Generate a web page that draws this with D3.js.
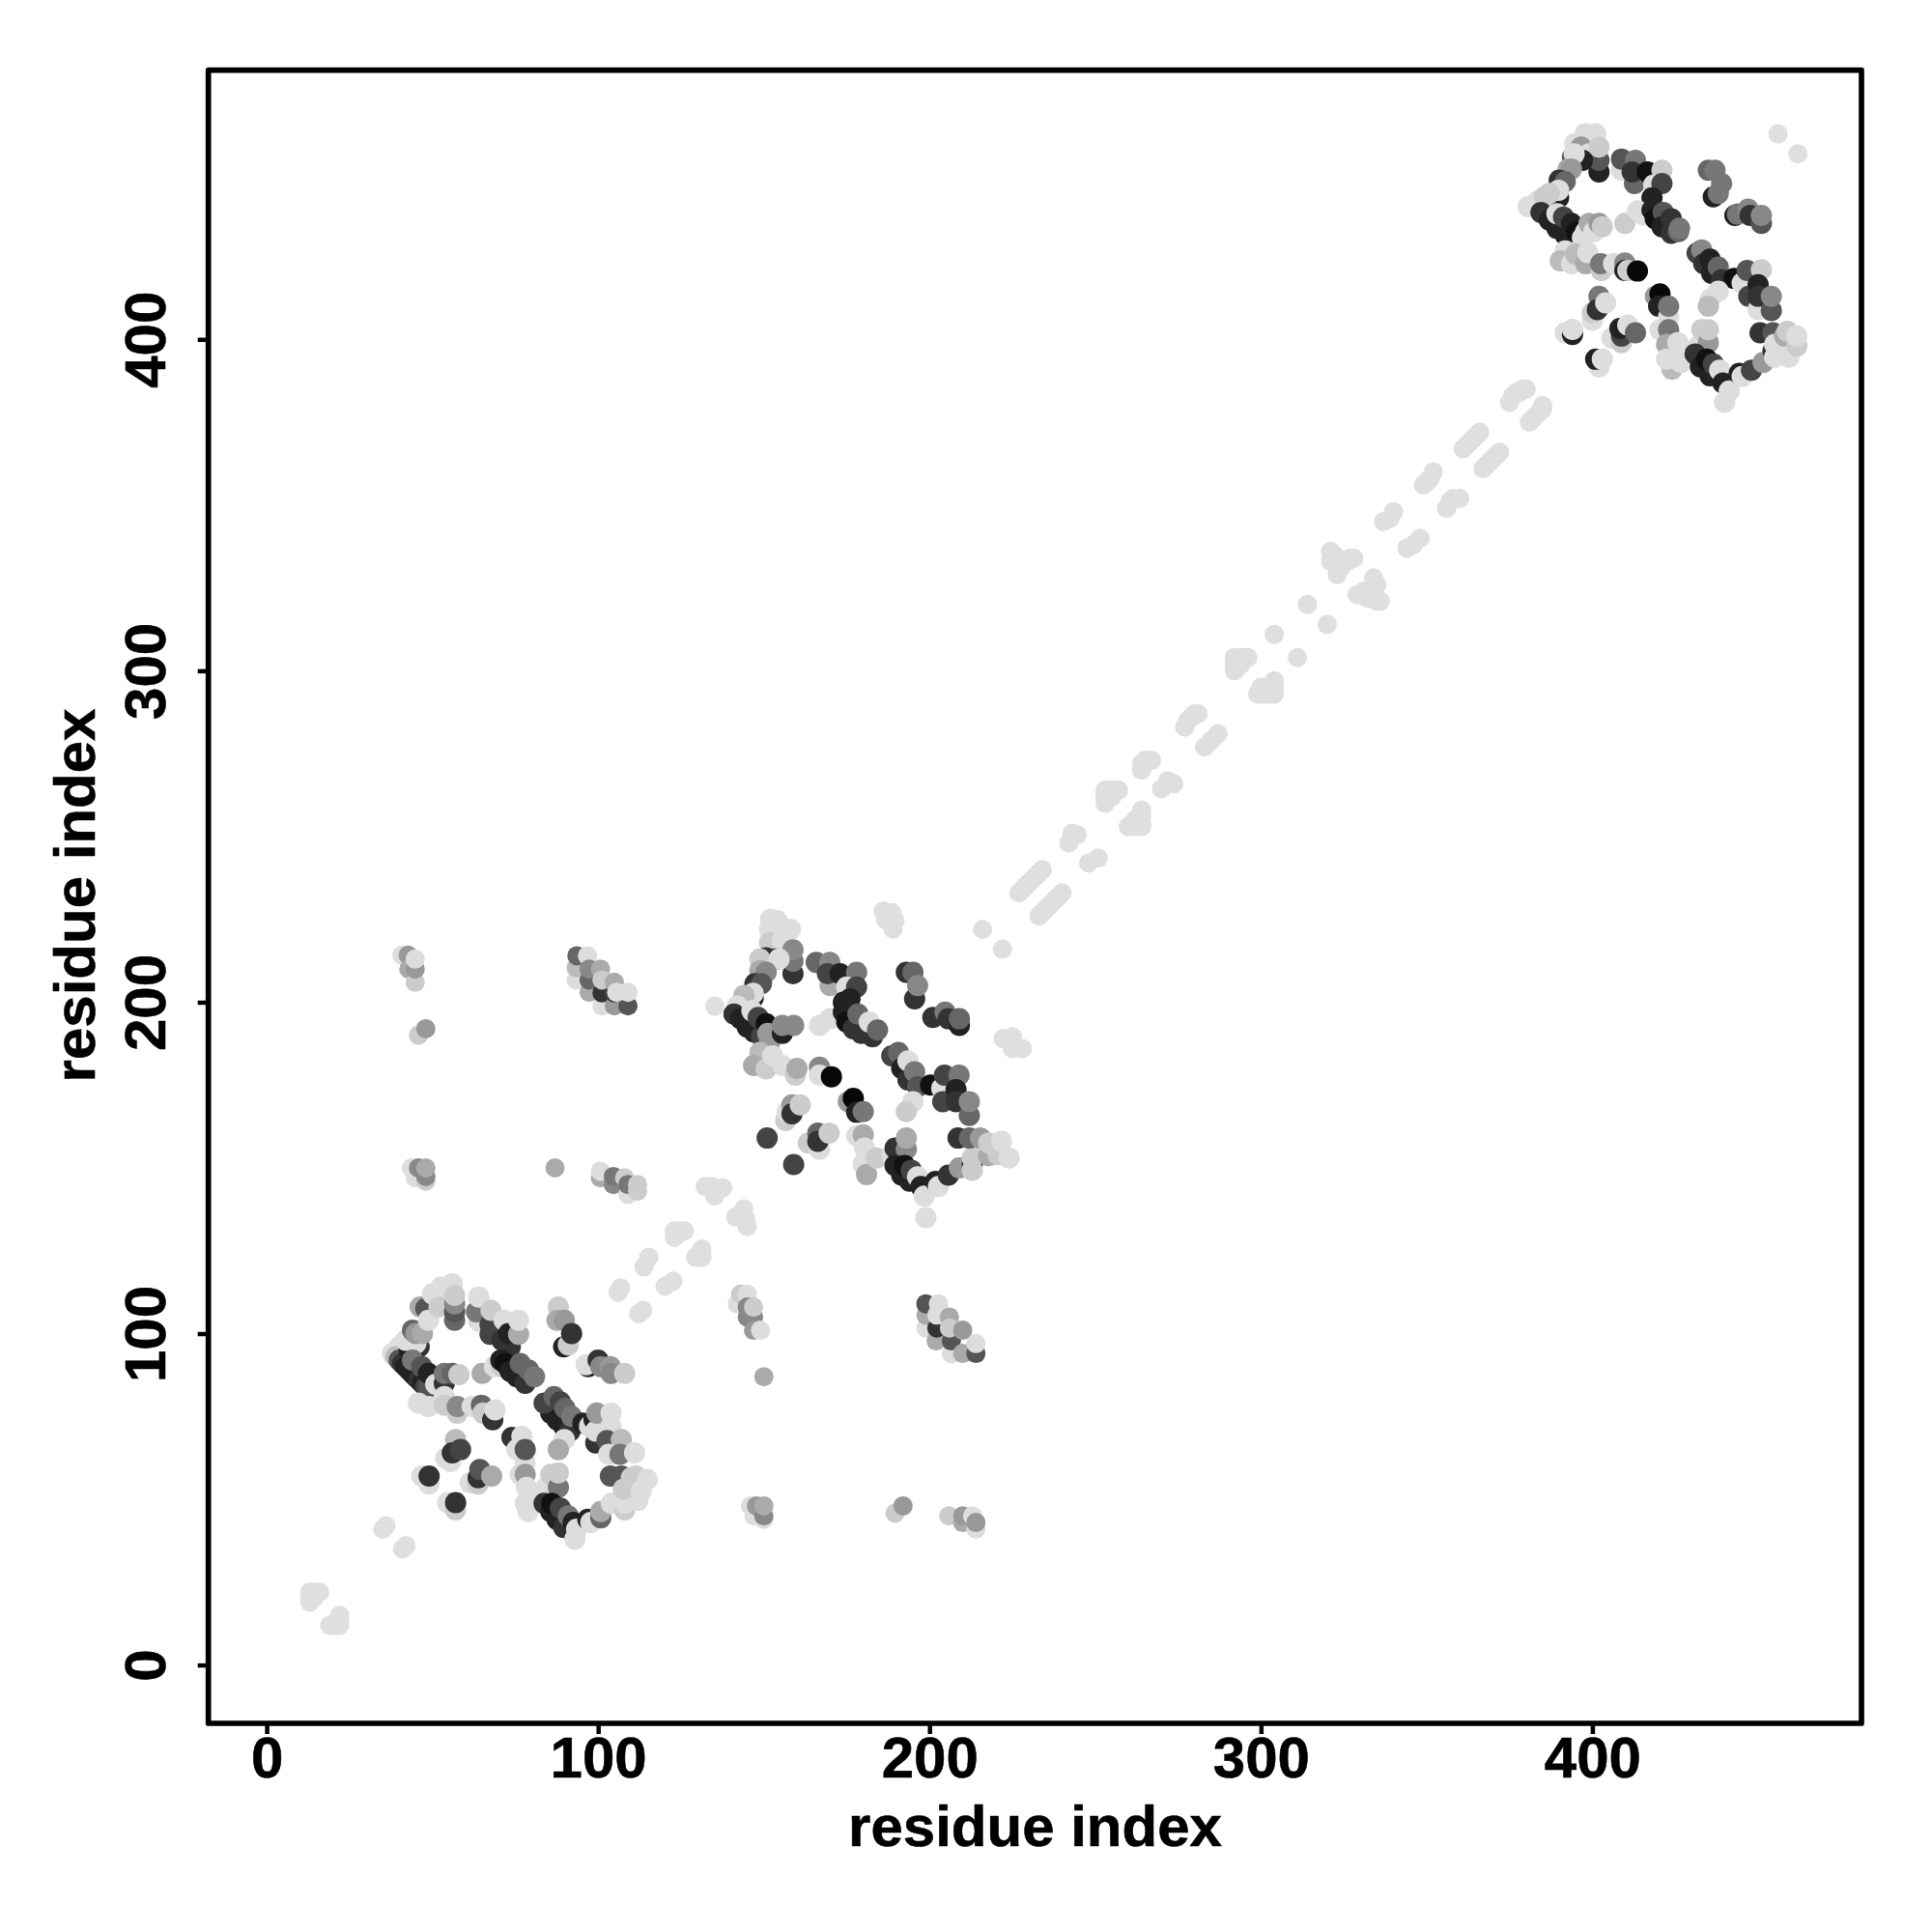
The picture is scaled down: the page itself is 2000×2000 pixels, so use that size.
<!DOCTYPE html>
<html><head><meta charset="utf-8"><script src="https://cdnjs.cloudflare.com/ajax/libs/d3/7.8.5/d3.min.js"></script>
<style>html,body{margin:0;padding:0;background:#fff}svg{display:block}text{font-family:"Liberation Sans",Arial,sans-serif;font-weight:700;fill:#000;stroke:#000;stroke-width:0.6px}</style>
</head><body><svg id="c" width="2000" height="2000"></svg>
<script>
const xTicks=[0,100,200,300,400], yTicks=[0,100,200,300,400];
const axisTitle="residue index";
const diagonal=[[13,22],[14,22],[15,22],[16,22],[13,21],[13,20],[13,19],[14,20],[19,12],[20,12],[21,12],[22,12],[22,13],[22,14],[22,15],[21,13],[35,41],[36,42],[41,35],[42,36],
[106,112.4],[106.8,113.8],[112.2,106],[113.5,107],[113.8,120.1],[115.3,123],[120.2,114.3],[122.6,115.8],[123,129],[123,131],[124,130],[125,131],[126,131],[129.4,123],[131.3,125.5],[131.3,123],
[132.3,144.4],[134.2,144.4],[135.2,141.5],[137.6,144],[141.5,135.2],[144,137.6],[145,132.3],[144.5,134.7],
[227,233],[228,234],[229,235],[230,236],[231,237],[232,238],[233,239],[234,240],[233,226],[234,227],[235,228],[236,229],[237,230],[238,231],[239,232],[240,233],
[242,248],[243,251],[244.5,250.5],[248,242],[250.9,243.5],[253,264],[254,264],[255,264],[256,264],[257,264],[253,263],[253,262],[253,261],[253,260],[254,262],[255,262],[260,253],[264,258],[264,256],[264,254],[264,253],[262,253],[262,255],
[264,270],[264,272],[265,273],[266,273],[267,273],[270,264.4],[271.8,266.8],[273.7,265.9],[277,283],[278,285],[279,286],[280,287],[281,287],[283,277],[285,279],[287,281],
[292,304],[293,304],[294,304],[295,304],[296,304],[292,303],[292,302],[292,301],[292,300],[293,301],[294,302],[304,297],[304,296],[304,295],[304,294],[304,293],[303,293],[302,293],[300,293],[299,293],[300,295],[301,294],
[304,311],[311,304],[314,320],[320,314],[321,336],[322,335],[321,333],[323,334],[325,333],[326,333],[327,334],[328,334],[323,329],[324,331],[334,328],[335,326],[334,325],[336,321],[335,321],[333,322],[329,323],[331,324],[332,322],
[337,345],[339,346],[340,348],[344,337],[346,338],[348,340],[349,356],[350,357],[351,358],[352,360],[356,349],[357,351],[358,352],[360,352],[361,367],[362,368],[363,369],[364,370],[365,371],[366,372],[367,361],[368,362],[369,363],[370,364],[371,365],[372,366],
[375,381],[376,383],[377,384],[378,384],[379,385],[380,385],[381,375],[382,376],[383,377],[384,378],[385,380],[385,379],
[186,227.5],[188.6,227],[189,222],[186.7,225],[189.6,224.6],[222.2,189],[225,189.6],[228,186],[225,186],[216,222],[222,216],[135.2,198.8],[456,462],[462,456]];
const offDiagonal=[[40.8,214.2,"dd"],[42.7,214.2,"99"],[42.9,210,"aa"],[44.8,206,"cc"],[44.8,210,"99"],[44.8,213,"dd"],[45.8,190,"cc"],[48,192,"99"],
[93.4,206.7,"dd"],[93.4,210.4,"bb"],[93.6,214,"66"],[96.8,214,"dd"],[97.3,203,"aa"],[97.3,206.7,"66"],[97.3,210,"88"],[100.7,210,"aa"],[101.2,198.9,"dd"],[101.2,202.8,"33"],[101.2,206.7,"cc"],[104.9,198.9,"99"],[104.9,202.8,"44"],[104.9,206,"aa"],[109,198.9,"55"],[105.6,203,"dd"],[109,203,"dd"],
[43.7,150,"dd"],[44.8,147,"dd"],[45.8,150,"88"],[48,146,"cc"],[48,147.4,"88"],[48,150,"aa"],[87,150,"aa"],[100.7,147,"aa"],[100.7,149,"dd"],[104.6,145,"88"],[104.6,147.4,"77"],[108,147,"cc"],[109,142,"dd"],[109,145,"77"],[111.9,143,"cc"],[111.9,145,"cc"],
[142,109,"dd"],[143,111.9,"cc"],[145,111.9,"dd"],[145,105,"88"],[146.9,105,"88"],[145,108,"88"],[146.9,108,"cc"],[146.9,101,"99"],[149,101,"dd"],[150,87,"aa"],
[198.9,101.7,"dd"],[198.9,105.6,"aa"],[198.9,109,"55"],[202.7,109,"dd"],[202,97.8,"aa"],[202.2,101.7,"33"],[202.2,105.6,"dd"],[206,105,"aa"],[206.6,93.9,"dd"],[206.6,97.8,"55"],[206,101.7,"cc"],[210,94,"aa"],[210,101,"99"],[214,94,"55"],[214,97,"dd"],
[146,48,"dd"],[147,45,"dd"],[150,44,"dd"],[147.8,48,"99"],[150,45,"88"],[150,48,"aa"],[189.6,45.8,"cc"],[192,48,"99"],[205.8,45,"cc"],[210,43,"aa"],[210,45,"99"],[214,41,"dd"],[213,45,"dd"],[214,43,"99"]];
const domainOne=[[38,94,"dd"],[40,96,"dd"],[39,93,"bb"],[40,92,"55"],[41,91,"33"],[42,90,"22"],[43,89,"22"],[44,88,"22"],[45,87,"22"],[46,86,"33"],[47,85,"22"],[48,84,"44"],[49,84,"55"],[43,95,"22"],[42,98,"dd"],[46,96,"33"],[45,97,"dd"],[44,92,"77"],[46.8,90,"55"],[48.8,88,"22"],[51,84.7,"dd"],[53.6,85,"33"],[53.6,88,"77"],[56,88,"66"],[58,87.6,"cc"],
[44,101,"66"],[45,100,"99"],[47,100,"aa"],[46.3,108,"aa"],[48,107.6,"55"],[48.8,104,"dd"],[50,112,"dd"],[52.6,114,"dd"],[56,115,"dd"],[52,108,"cc"],[56.7,104,"66"],[56.7,106.6,"55"],[56.7,109,"88"],[56.7,111.5,"cc"],
[64,103.7,"dd"],[63.3,106.6,"77"],[64,111,"dd"],[67.4,99.8,"44"],[67.4,102.7,"44"],[67.7,107,"cc"],[71,98,"33"],[71.6,104,"dd"],[73.5,96,"33"],[73,100,"22"],[76,99.8,"aa"],[76,104,"dd"],
[65,88,"aa"],[68.7,90,"dd"],[71,90,"cc"],[70.6,92,"22"],[72,91,"11"],[73.5,88.6,"22"],[75.5,87,"22"],[78,85,"33"],[76.5,91,"66"],[79,89,"66"],[80.8,87,"77"],
[88,108,"cc"],[87.6,104,"aa"],[89.8,104,"99"],[89.6,96,"22"],[91,96.6,"cc"],[92,100,"33"],[97,90,"22"],[96.4,90.6,"dd"],[100,92,"33"],[100.8,90,"88"],[103.7,90,"99"],[103.9,88,"88"],[108,88,"cc"],
[87.6,74,"22"],[85.7,76,"22"],[89.6,72,"22"],[91.5,70.6,"33"],[83.7,79,"44"],[86.7,81,"66"],[88.6,79.4,"44"],[90,77.4,"66"],[92,75,"77"],[95.4,73,"22"],[97.4,72,"dd"],[98.8,74,"22"],[99.3,67,"33"],[99.3,70.6,"dd"],[99.6,76,"99"],[103.9,76,"dd"],[103.9,72,"dd"],[102.7,67.7,"55"],[107,68,"bb"],[103.2,63.6,"dd"],[106.6,63.6,"77"],[111,64,"dd"],[89.8,68,"dd"],[88,65,"aa"],
[45.8,79,"dd"],[48.8,78,"dd"],[53.6,81,"dd"],[53.6,78.4,"cc"],[57.5,76,"cc"],[57.5,78,"88"],[62,78,"dd"],[64.8,78.4,"66"],[65.3,76,"cc"],[68.2,74,"33"],[68.9,77,"dd"],
[74,68.7,"33"],[77,69,"dd"],[75.5,65,"dd"],[78,61,"dd"],[78,65,"55"],[57,68,"bb"],[54,62.4,"dd"],[55.6,61.4,"dd"],[56,64,"33"],[58.5,65,"44"],[46.8,57,"dd"],[49,54.6,"dd"],[49,57,"33"],
[61.4,55,"dd"],[63.8,54.6,"cc"],[63.8,56.5,"33"],[64.3,59,"55"],[67.9,57,"aa"],[54.6,49,"dd"],[57,46.8,"cc"],[57,49,"33"],
[76.5,57.5,"dd"],[78,57.5,"99"],[78.4,53.6,"dd"],[78,48.8,"dd"],[78.9,46.3,"dd"],[82.3,52,"dd"],[84.7,54,"dd"],[85.7,57.5,"cc"],[88,53.6,"77"],[88,58,"cc"],
[83.7,48.8,"33"],[85.7,46.3,"22"],[87.6,43.9,"22"],[89.6,41.5,"33"],[86,48.8,"11"],[88.6,47.3,"44"],[91,45,"77"],[93,38,"dd"],[92.5,43,"22"],[93.5,41,"dd"],[96.9,44,"22"],[97.8,43,"dd"],[100.8,44.4,"66"],[100.8,46.3,"aa"],[104,48.8,"dd"],[108,46.8,"cc"],[108,48.8,"dd"],[112,49.7,"dd"],
[103.7,57,"55"],[107,57,"55"],[107.6,53,"cc"],[110,56.5,"cc"],[111.4,57,"cc"],[113,52.6,"dd"],[114.8,56,"dd"]];
const domainTwo=[[152,225,"dd"],[154,224.6,"dd"],[151.7,222,"dd"],[154.6,221.7,"dd"],[158,222,"dd"],[151.7,218,"cc"],[155.6,218.8,"dd"],[158.8,208.6,"33"],[158.8,212.4,"77"],[158.8,215.8,"88"],[153.7,213,"11"],[150.7,213.4,"33"],[148.8,213,"cc"],[154.6,213,"dd"],[148.8,209.5,"aa"],[150.7,209,"88"],[147.3,205.6,"33"],[149.3,205.6,"55"],[146.8,201.3,"22"],[146.8,202.7,"dd"],[144,202,"bb"],[142,198.8,"dd"],
[141,196.4,"33"],[143,195,"22"],[145,192.5,"22"],[147,191,"22"],[149.3,189.6,"44"],[151.7,187.7,"99"],[146.4,197.4,"dd"],[148.3,195.4,"44"],[150.7,193.5,"11"],[151.2,190.6,"99"],[155.6,190.6,"22"],[155.6,193,"88"],[159,193,"88"],
[148.8,184.8,"bb"],[146.9,180.9,"aa"],[150.7,179.9,"cc"],[152.7,183.8,"dd"],[155.6,180.9,"dd"],[159.5,178,"cc"],[160,180,"aa"],[166.8,180.4,"88"],[166.8,178,"dd"],[170.4,177.5,"08"],[175.5,170,"99"],[177,171,"08"],[178,166.8,"22"],[180,167,"77"],
[165.8,212,"66"],[169.9,212,"88"],[170,205,"aa"],[169.2,208.6,"44"],[173,208.6,"22"],[178,209,"77"],[175,204.6,"dd"],[178,204.6,"44"],[174,200,"22"],[176,201,"22"],[166.8,193,"dd"],[170,195,"dd"],
[174,197,"22"],[175,194,"11"],[177,192,"33"],[179.4,190.6,"33"],[178.4,196.4,"66"],[182.8,189.6,"33"],[181.8,194,"dd"],[184.3,191.6,"66"],
[193,209,"33"],[195,209,"66"],[195.5,201,"33"],[196.4,205,"88"],[201,195.4,"33"],[204.7,197,"77"],[205.7,195,"33"],[209,193,"22"],[209,195,"66"],
[188.6,183.8,"44"],[190.6,184.8,"66"],[191.6,180,"22"],[193.5,176.5,"33"],[193.5,182.3,"dd"],[195.5,179,"77"],[196.4,174.5,"55"],[200.3,175,"11"],[203.7,174,"dd"],[204.5,178,"44"],[208.9,178,"77"],[204,170,"44"],[208,173.6,"22"],[208,170,"33"],[212,165.8,"66"],[212,170,"88"],[195,170,"dd"],[193,167,"cc"],
[156.6,164.3,"cc"],[157,167,"dd"],[158.5,169,"99"],[158.5,166.3,"33"],[161,169,"cc"],[151,159,"44"],[159,151,"44"],[163.4,157.5,"cc"],[166.8,155.6,"dd"],[166.3,160.5,"66"],[166.3,158,"33"],[169.7,160.5,"cc"],
[178,159.7,"dd"],[180,160,"aa"],[180.4,156,"dd"],[180,151.2,"dd"],[181,148,"aa"],[184,153,"cc"],[188.6,153.7,"dd"],[189.6,156,"33"],[193,155.6,"88"],[193,159,"aa"],
[189.6,150.7,"22"],[191.6,147.8,"22"],[194,146,"22"],[192.5,150.7,"11"],[194.5,149.3,"44"],[196.4,147.3,"dd"],[198.9,135,"dd"],[197.4,144.4,"22"],[198.4,141.5,"dd"],[201.8,145.9,"22"],[202.7,144.4,"dd"],[205.7,147.8,"33"],[209,150,"99"],[212.9,151,"22"],[212.9,149.3,"cc"],[212.9,153,"cc"],
[208.6,159,"33"],[212,159,"66"],[215.4,159,"99"],[217.8,153.7,"aa"],[217.8,157.5,"cc"],[220.7,154,"cc"],[221.7,158,"dd"],[224,153,"dd"]];
const domainThree=[[397.8,462,"dd"],[401,462,"dd"],[394.7,459,"dd"],[396.6,458,"99"],[399,456,"dd"],[402,450.5,"22"],[402,454,"55"],[402,458,"cc"],[397,454,"22"],[394,455,"55"],[394.5,456,"dd"],[392.7,451.4,"aa"],[393.7,451.4,"99"],[390,448,"33"],[391.8,447.6,"66"],[389.8,442.7,"22"],[389.8,445,"dd"],[387,444,"cc"],[380.6,440,"dd"],[383.5,441.7,"dd"],[385.5,443,"cc"],
[384.5,438.3,"33"],[387,436,"22"],[389.3,433.5,"22"],[391.8,431.5,"22"],[389.3,437.9,"dd"],[391.3,436.9,"44"],[393.7,435,"22"],[395.2,432.5,"11"],[397,430.6,"dd"],[398,432.5,"dd"],[399,435,"aa"],[400.5,432.5,"dd"],[402,435,"99"],[403,434,"cc"],
[391.8,426.7,"dd"],[390.3,423.7,"bb"],[393.7,422.8,"dd"],[395,425.7,"bb"],[398,422.8,"aa"],[398.6,426.2,"dd"],[402.7,420.8,"cc"],[402.5,422.8,"77"],[406.4,422.8,"dd"],[409.8,423,"88"],[409.8,420.8,"22"],[410.7,420.8,"cc"],[413.6,420.6,"08"],[419,413,"99"],[420.4,413.7,"08"],[420,410,"22"],[423,406.7,"dd"],[423,410,"77"],
[408.8,451,"dd"],[408.8,454.4,"55"],[413,454,"77"],[412.7,447,"66"],[412,450.5,"33"],[416.6,450.5,"11"],[421,451,"cc"],[418.5,446.6,"dd"],[421,447,"44"],[418,442.7,"22"],[409.8,435,"cc"],[413.6,438.8,"dd"],[415.5,437.5,"dd"],
[418,439,"22"],[419,436.4,"11"],[421.4,438.3,"55"],[421,434,"22"],[423.8,432,"33"],[423.8,436.4,"33"],[426,432.5,"66"],[426.3,433.5,"77"],
[436.5,443,"22"],[435,451,"66"],[437,451,"77"],[439,447,"77"],[438,444,"77"],[443,437.4,"22"],[443.8,437.8,"77"],[447,439.3,"88"],[447.6,437.4,"33"],[451,435,"55"],[451,437.4,"88"],
[431.6,426,"44"],[433,427,"88"],[433.6,422.8,"33"],[435.5,424.2,"22"],[436,419.9,"22"],[438,421.8,"66"],[439,418,"33"],[442.8,418.4,"11"],[445.2,417,"dd"],[446.7,420.8,"55"],[451,421,"cc"],[447.2,413,"44"],[450,416.5,"22"],[450,409,"dd"],[450,413,"33"],[454,408.7,"55"],[454,413,"88"],[438,414.5,"dd"],[435.5,412,"dd"],[435,410,"bb"],
[402,413,"77"],[400,405.8,"dd"],[400,408,"cc"],[401.5,409,"33"],[404,411,"dd"],[391.8,402,"dd"],[394,401.5,"22"],[394,403,"dd"],[405.9,400.4,"dd"],[408.8,399,"cc"],[408.8,401,"44"],[408.3,403.3,"22"],[410.7,404.3,"dd"],[413,402,"66"],[402,391.7,"dd"],[401,394,"22"],[403,394,"dd"],
[420.4,402.9,"dd"],[423,402.9,"77"],[422.4,398.5,"aa"],[424,391,"bb"],[425.8,399,"dd"],[422.4,394,"dd"],[426.8,393,"dd"],[432,398,"dd"],[433,402.9,"cc"],[435,399,"99"],[435,402.9,"cc"],
[431,395.6,"33"],[432.6,391.7,"22"],[435.5,389,"22"],[434.5,394,"11"],[436.5,392.6,"44"],[438.4,390.7,"dd"],[439.9,381,"dd"],[439.4,386.8,"22"],[441.3,384.4,"dd"],[444.3,389.7,"22"],[445.2,388.8,"dd"],[448,390.7,"44"],[451.5,393,"99"],[454.5,396.5,"33"],[455,394.6,"dd"],[459.3,394.6,"dd"],
[450.6,402,"33"],[454.5,402,"55"],[455,398.5,"dd"],[458,401,"aa"],[458.8,402.4,"cc"],[461.7,398,"cc"],[461.7,401,"dd"]];

const svg=d3.select("#c");
const x=d3.scaleLinear().domain([-17.6,481.2]).range([215.7,1927]);
const y=d3.scaleLinear().domain([-17.6,481.2]).range([1784,72.7]);
const color=s=>`#${s}${s}${s}`;
const outerPoints=[...diagonal.map(d=>[d[0],d[1],"df"]),...offDiagonal];
const domainPoints=[...domainOne,...domainTwo,...domainThree];
const plot=svg.append("g");
plot.append("g").selectAll("circle").data(outerPoints).join("circle")
  .attr("cx",d=>x(d[0])).attr("cy",d=>y(d[1])).attr("r",10).attr("fill",d=>color(d[2]));
plot.append("g").selectAll("circle").data(domainPoints).join("circle")
  .attr("cx",d=>x(d[0])).attr("cy",d=>y(d[1])).attr("r",d=>d[2]==="08"?11:11).attr("fill",d=>color(d[2]));
svg.append("rect").attr("x",215.7).attr("y",72.7).attr("width",1927-215.7).attr("height",1784-72.7)
  .attr("fill","none").attr("stroke","#000").attr("stroke-width",5.7).attr("stroke-linejoin","round");
const gx=svg.append("g").attr("transform","translate(0,1784)").call(d3.axisBottom(x).tickValues(xTicks).tickSize(11).tickFormat(d3.format("d")));
const gy=svg.append("g").attr("transform","translate(215.7,0)").call(d3.axisLeft(y).tickValues(yTicks).tickSize(11).tickFormat(d3.format("d")));
[gx,gy].forEach(g=>{g.select(".domain").remove();g.selectAll("line").attr("stroke","#000").attr("stroke-width",4.5);});
gx.selectAll("text").attr("y",0).attr("dy",0).attr("transform","translate(0,56)").attr("text-anchor","middle").style("font-size","60px").style("font-family",'"Liberation Sans"').style("font-weight",700);
gy.selectAll("text").attr("x",0).attr("dy",0).attr("transform","translate(-45,0) rotate(-90)").attr("text-anchor","middle").style("font-size","60px").style("font-family",'"Liberation Sans"').style("font-weight",700);
svg.append("text").attr("x",1071.5).attr("y",1911).attr("text-anchor","middle").style("font-size","60px").text(axisTitle);
svg.append("text").attr("transform","translate(98,927) rotate(-90)").attr("text-anchor","middle").style("font-size","60px").text(axisTitle);
</script></body></html>
